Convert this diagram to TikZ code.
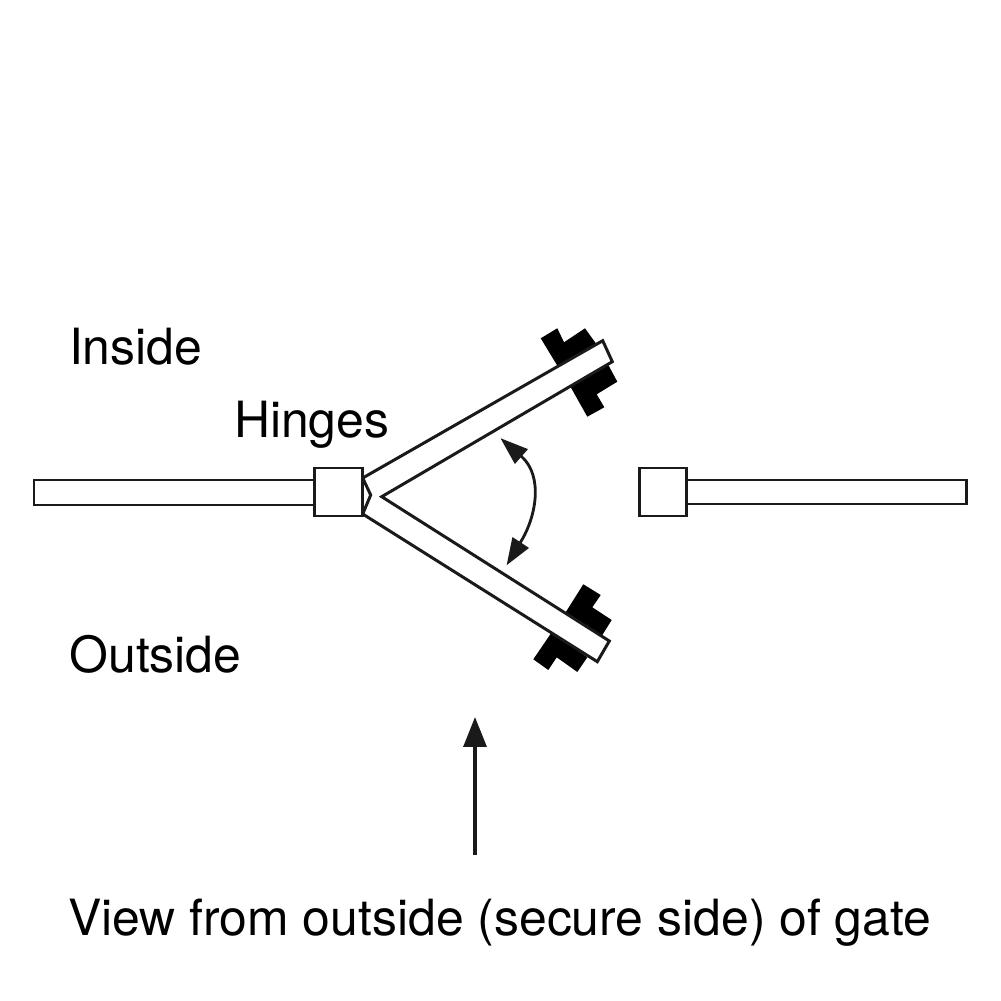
\documentclass[tikz,border=0pt]{standalone}
\usepackage{fontspec}
\setmainfont{TeX Gyre Heros}
\usetikzlibrary{arrows.meta}
\definecolor{ink}{HTML}{1A1A1A}
\tikzset{
  wall/.style={draw=ink,fill=white,line width=0.85pt,line join=miter},
  leaf/.style={draw=ink,fill=white,line width=0.85pt,line join=miter},
  latch/.style={fill=black,draw=none},
  lbl/.style={anchor=base west,inner sep=0pt,outer sep=0pt,text=black,font=\fontsize{14.2}{17}\selectfont},
  swing/.style={draw=ink,line width=0.8pt},
  swingtip/.style={fill=ink,draw=ink,line width=0.5pt,line join=miter},
  viewarrow/.style={draw=ink,line width=1pt,-{Triangle[length=8.5pt,width=6.5pt]}}
}
\begin{document}
\begin{tikzpicture}[x=0.1cm,y=-0.1cm]
\useasboundingbox (0,0) rectangle (100.1,100.1);
% walls
\draw[wall] (3.4,48.0) rectangle (31.5,50.5);
\draw[wall] (68.65,48.0) rectangle (96.65,50.4);
% latches
\fill[latch] (54.07,33.83) -- (55.73,32.83) -- (56.4,34.23) -- (58.5,32.83) -- (59.7,34.5) -- (55.83,36.73) -- cycle;
\fill[latch] (57.0,38.6) -- (60.83,36.5) -- (61.73,38.17) -- (59.67,39.43) -- (60.43,40.73) -- (58.73,41.67) -- cycle;
\fill[latch] (56.5,61.33) -- (58.33,58.43) -- (60.07,59.5) -- (59.23,60.73) -- (61.17,62.0) -- (60.17,63.6) -- cycle;
\fill[latch] (55.17,63.23) -- (53.33,65.93) -- (54.83,67.0) -- (55.67,65.73) -- (57.73,67.2) -- (58.73,65.73) -- cycle;
% gate leaves
\draw[leaf] (36.27,47.8) -- (60.27,34.07) -- (61.23,36.17) -- (38.17,49.67) -- (60.93,64.1) -- (59.73,66.17) -- (36.27,51.4) -- (37.07,49.5) -- cycle;
% posts
\draw[wall] (31.45,46.8) rectangle (36.2,51.6);
\draw[wall] (63.9,46.8) rectangle (68.65,51.6);
% swing arrow
\coordinate (swingA) at (52.1,45.6);
\coordinate (swingB) at (52.0,54.3);
\draw[swing] (swingA) .. controls (54.4,47.6) and (53.6,51.8) .. (swingB);
\draw[swingtip] (50.25,44.0) -- (52.65,44.95) -- (51.5,46.25) -- cycle;
\draw[swingtip] (50.8,56.3) -- (52.75,54.8) -- (51.3,53.85) -- cycle;
% view arrow
\coordinate (viewA) at (47.5,85.5);
\coordinate (viewB) at (47.5,71.7);
\draw[viewarrow] (viewA) -- (viewB);
% labels
\node[lbl] (inside) at (6.9,36.5) {Inside};
\node[lbl] (hinges) at (23.4,43.75) {Hinges};
\node[lbl] (outside) at (6.95,67.2) {Outside};
\node[lbl] (view) at (6.8,93.5) {View from outside (secure side) of gate};
\end{tikzpicture}
\end{document}
